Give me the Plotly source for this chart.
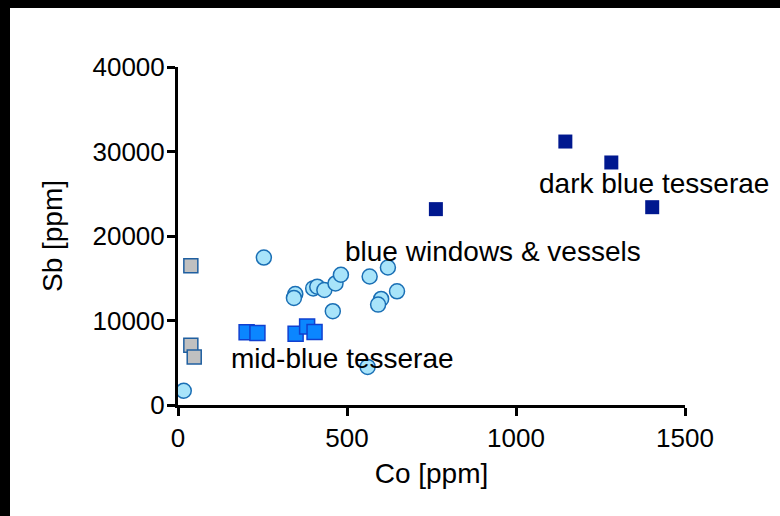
import plotly.graph_objects as go

# Light-blue circles: blue windows & vessels
win_co = [17, 254, 347, 343, 400, 412, 433, 466, 482, 458, 567, 621, 648, 601, 592, 561]
win_sb = [1690, 17450, 13140, 12670, 13800, 14000, 13610, 14390, 15410, 11100, 15210, 16270, 13450, 12550, 11880, 4510]

# Grey squares
grey_co = [38, 38, 48]
grey_sb = [16470, 7060, 5690]

# Mid-blue tesserae
mid_co = [203, 235, 348, 382, 404]
mid_sb = [8620, 8510, 8430, 9290, 8630]

# Dark blue tesserae
dark_co = [763, 1146, 1282, 1403]
dark_sb = [23180, 31180, 28700, 23410]

x_ticks = [0, 500, 1000, 1500]
y_ticks = [0, 10000, 20000, 30000, 40000]

FONT = "Liberation Sans, Arial, sans-serif"

fig = go.Figure()
fig.add_trace(go.Scatter(x=grey_co, y=grey_sb, mode="markers",
    marker=dict(symbol="square", size=14, color="#C0C0C0",
                line=dict(color="#1F5FA0", width=1.5))))
fig.add_trace(go.Scatter(x=mid_co, y=mid_sb, mode="markers",
    marker=dict(symbol="square", size=15, color="#0B86FF",
                line=dict(color="#1040D0", width=1.5))))
fig.add_trace(go.Scatter(x=win_co, y=win_sb, mode="markers",
    marker=dict(symbol="circle", size=15, color="#A8E4FA",
                line=dict(color="#1A6FB5", width=1.5))))
fig.add_trace(go.Scatter(x=dark_co, y=dark_sb, mode="markers",
    marker=dict(symbol="square", size=14, color="#00188F",
                line=dict(color="#00188F", width=0))))

ann = dict(showarrow=False, xanchor="left", yanchor="middle",
           font=dict(family=FONT, size=28, color="#000000"))
fig.add_annotation(x=488, y=18220, text="blue windows &amp; vessels", **ann)
fig.add_annotation(x=1062, y=26270, text="dark blue tesserae", **ann)
fig.add_annotation(x=152, y=5560, text="mid-blue tesserae", **ann)

axis_common = dict(showline=True, linecolor="#000000", linewidth=3,
                   ticks="outside", ticklen=8, tickwidth=3, tickcolor="#000000",
                   showgrid=False, zeroline=False,
                   tickfont=dict(family=FONT, size=26, color="#000000"))

fig.update_xaxes(range=[0, 1500], tickvals=x_ticks,
                 ticktext=[str(v) for v in x_ticks],
                 title=dict(text="Co [ppm]", font=dict(family=FONT, size=28, color="#000000"), standoff=12),
                 **axis_common)
fig.update_yaxes(range=[0, 40000], tickvals=y_ticks,
                 ticktext=[str(v) for v in y_ticks],
                 ticklabelstandoff=-3,
                 title=dict(text="Sb [ppm]", font=dict(family=FONT, size=28, color="#000000"), standoff=22),
                 **axis_common)

W, H = 780, 516
L, R, T, B = 178, 95, 67, 111
pw, ph = W - L - R, H - T - B

def px(x):
    return (x - L) / pw

def py(y):
    return (H - B - y) / ph

fig.add_shape(type="rect", xref="paper", yref="paper",
              x0=px(0), x1=px(W), y0=py(0), y1=py(8),
              fillcolor="#000000", line=dict(width=0), layer="above")
fig.add_shape(type="rect", xref="paper", yref="paper",
              x0=px(0), x1=px(10), y0=py(0), y1=py(H),
              fillcolor="#000000", line=dict(width=0), layer="above")

fig.update_layout(width=W, height=H, showlegend=False,
                  margin=dict(l=L, r=R, t=T, b=B, pad=0),
                  paper_bgcolor="#FFFFFF", plot_bgcolor="#FFFFFF",
                  font=dict(family=FONT))

fig.write_html("out.html")
